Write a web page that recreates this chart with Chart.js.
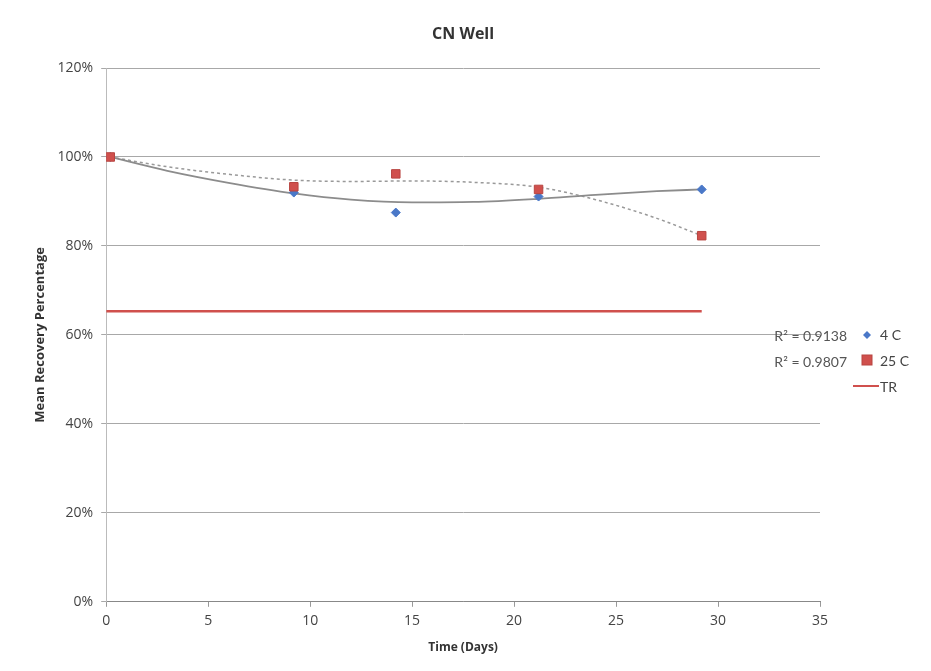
<!DOCTYPE html>
<html>
<head>
<meta charset="utf-8">
<script src="https://cdn.jsdelivr.net/npm/chart.js@4/dist/chart.umd.min.js"></script>
<style>
  html, body { margin: 0; padding: 0; background: #fff; }
  #wrap { width: 931px; height: 671px; }
</style>
</head>
<body>
<div id="wrap"><canvas id="myChart" width="931" height="671"></canvas></div>
<script>
'use strict';

// measured data (days, mean recovery %)
const days = [0.2, 9.2, 14.2, 21.2, 29.2];
const cold4C = [100, 92.0, 87.5, 91.1, 92.7];
const warm25C = [100, 93.3, 96.2, 92.7, 82.3];

// TR threshold line
const trDays = [0, 29.2];
const trValues = [65.3, 65.3];

// trendlines
const trendDays = [0.2, 3, 6, 9.2, 12, 15, 18, 21.2, 24, 27, 29.2];
const trend4C = [100, 96.9, 94.2, 91.8, 90.4, 89.8, 89.9, 90.6, 91.5, 92.3, 92.7];
const trend25C = [100, 97.8, 96.1, 94.8, 94.5, 94.6, 94.3, 93.2, 90.4, 86.2, 82.3];

const r2Labels = ['R² = 0.9138', 'R² = 0.9807'];

const yTicks = [0, 20, 40, 60, 80, 100, 120];

const blue = '#4a78c8';
const red = '#d0504d';
const grey = '#8c8c8c';
const fontFam = '"Open Sans", Lato, sans-serif';

const toPoints = (xs, ys) => xs.map((x, i) => ({ x: x, y: ys[i] }));

// title over the plot, custom legend and R² labels on the right
const sideLegend = {
  id: 'sideLegend',
  afterDraw(chart) {
    const c = chart.ctx;
    const area = chart.chartArea;
    const x0 = area.right;
    c.save();

    c.fillStyle = '#333';
    c.textAlign = 'center';
    c.textBaseline = 'middle';
    c.font = 'bold 16px ' + fontFam;
    c.fillText('CN Well', (area.left + area.right) / 2, 34);

    c.font = '14px Lato, "Open Sans", sans-serif';

    // R² texts
    c.fillStyle = '#555';
    c.textAlign = 'right';
    c.fillText(r2Labels[0], x0 + 27, 336);
    c.fillText(r2Labels[1], x0 + 27, 362);

    // markers
    c.fillStyle = blue;
    c.beginPath();
    c.moveTo(x0 + 47, 331);
    c.lineTo(x0 + 51, 335);
    c.lineTo(x0 + 47, 339);
    c.lineTo(x0 + 43, 335);
    c.closePath();
    c.fill();

    c.fillStyle = red;
    c.strokeStyle = '#b84541';
    c.fillRect(x0 + 42, 355, 10, 10);
    c.strokeRect(x0 + 42, 355, 10, 10);

    c.strokeStyle = red;
    c.lineWidth = 2;
    c.beginPath();
    c.moveTo(x0 + 33, 386);
    c.lineTo(x0 + 59, 386);
    c.stroke();

    c.fillStyle = '#444';
    c.textAlign = 'left';
    c.fillText('4 C', x0 + 60, 335);
    c.fillText('25 C', x0 + 60, 361);
    c.fillText('TR', x0 + 60, 387);
    c.restore();
  }
};

const ctx = document.querySelector('#myChart').getContext('2d');
const myChart = new Chart(ctx, {
  type: 'scatter',
  data: {
    datasets: [
      {
        label: '4 C',
        data: toPoints(days, cold4C),
        pointStyle: 'rectRot',
        pointRadius: 4.5,
        backgroundColor: blue,
        borderColor: blue,
        order: 1
      },
      {
        label: '25 C',
        data: toPoints(days, warm25C),
        pointStyle: 'rect',
        pointRadius: 6,
        backgroundColor: red,
        borderColor: '#b84541',
        borderWidth: 1,
        order: 0
      },
      {
        label: 'TR',
        type: 'line',
        data: toPoints(trDays, trValues),
        borderColor: red,
        borderWidth: 2.5,
        pointRadius: 0,
        fill: false,
        order: 3
      },
      {
        label: 'trend 4 C',
        type: 'line',
        data: toPoints(trendDays, trend4C),
        borderColor: grey,
        borderWidth: 1.8,
        pointRadius: 0,
        cubicInterpolationMode: 'monotone',
        fill: false,
        order: 2
      },
      {
        label: 'trend 25 C',
        type: 'line',
        data: toPoints(trendDays, trend25C),
        borderColor: '#999',
        borderWidth: 1.5,
        borderDash: [3, 3],
        pointRadius: 0,
        cubicInterpolationMode: 'monotone',
        fill: false,
        order: 2
      }
    ]
  },
  options: {
    responsive: false,
    animation: false,
    layout: {
      padding: { top: 68, right: 111, bottom: 12, left: 28 }
    },
    scales: {
      x: {
        type: 'linear',
        min: 0,
        max: 35,
        ticks: {
          stepSize: 5,
          color: '#444',
          padding: 6,
          font: { family: fontFam, size: 14 }
        },
        grid: { display: true, drawOnChartArea: false, tickLength: 5, color: '#999' },
        border: { color: '#888' },
        title: {
          display: true,
          text: 'Time (Days)',
          color: '#333',
          font: { family: fontFam, size: 12, weight: 'bold' },
          padding: { top: 5 }
        }
      },
      y: {
        min: 0,
        max: 120,
        afterBuildTicks: (axis) => {
          axis.ticks = yTicks.map(v => ({ value: v }));
        },
        ticks: {
          color: '#444',
          padding: 8,
          font: { family: fontFam, size: 14 },
          callback: (v) => v + '%'
        },
        grid: {
          color: '#a8a8a8',
          tickLength: 5
        },
        border: { color: '#bbb' },
        title: {
          display: true,
          text: 'Mean Recovery Percentage',
          color: '#333',
          font: { family: fontFam, size: 13, weight: 'bold' },
          padding: { bottom: 2 }
        }
      }
    },
    plugins: {
      legend: { display: false },
      tooltip: { enabled: false },
      title: { display: false }
    }
  },
  plugins: [sideLegend]
});
</script>
</body>
</html>
